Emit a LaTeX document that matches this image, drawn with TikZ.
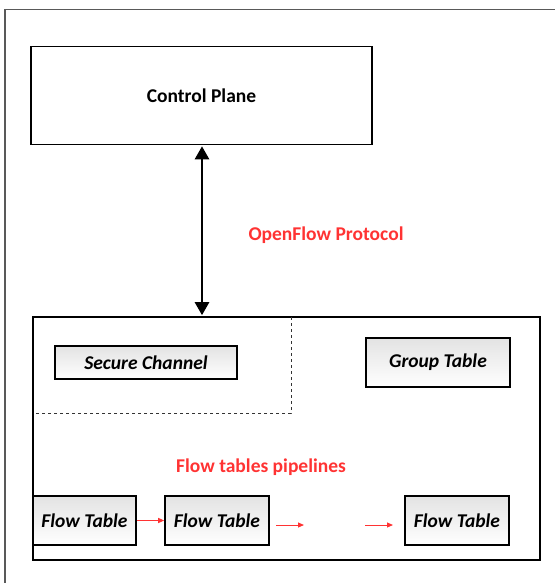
\documentclass[tikz,border=0pt]{standalone}
\usepackage{fontspec}
\setmainfont{Carlito}
\usetikzlibrary{arrows.meta,shadows}
\begin{document}
\begin{tikzpicture}[x=1pt,y=-1pt,
  box/.style={draw=black,line width=1.6pt},
  tbl/.style={draw=black,line width=1.6pt,top color=gray!22,bottom color=white,
    drop shadow={shadow xshift=1pt,shadow yshift=-1pt,opacity=0.3},
    font=\bfseries\itshape\fontsize{19.5}{22}\selectfont},
  redlbl/.style={text=red!80!white,font=\bfseries\fontsize{19.5}{22}\selectfont},
  redarrow/.style={draw=red!80!white,line width=1pt,-{Triangle[length=6pt,width=5pt]}}]
\useasboundingbox (0,0) rectangle (554,583);
\draw[gray!70!black,line width=1.5pt] (5,590) -- (5,9.5) -- (560,9.5);
% Control plane
\node[box,minimum width=341pt,minimum height=98pt,inner sep=0pt,font=\bfseries\fontsize{19.5}{22}\selectfont] (cp) at (201.5,95.5) {Control Plane};
% big switch box
\node[box,minimum width=507pt,minimum height=243pt,inner sep=0pt] (sw) at (286.5,438.5) {};
\coordinate (dtop) at (291,317);
\coordinate (dcorner) at (291,413);
\coordinate (dleft) at (33,413);
\draw[dashed,gray!40!black,line width=1pt,dash pattern=on 3pt off 3pt] (dtop) -- (dcorner) -- (dleft);
% protocol arrow
\coordinate (ax) at (202,0);
\draw[line width=2.6pt,shorten <=1pt,shorten >=1pt,{Triangle[length=13pt,width=14pt]}-{Triangle[length=13pt,width=14pt]}] (cp.south -| ax) -- (sw.north -| ax);
\node[redlbl] (ofp) at (326,235) {OpenFlow Protocol};
% inner tables
\node[tbl,minimum width=182pt,minimum height=33pt,inner sep=0pt] (sc) at (146,362.5) {Secure Channel};
\node[tbl,minimum width=144pt,minimum height=49pt,inner sep=0pt] (gt) at (438,362.5) {Group Table};
\node[redlbl] (ftp) at (261,467) {Flow tables pipelines};
\node[tbl,minimum width=103pt,minimum height=49pt,inner sep=0pt] (ft1) at (84.5,520.5) {Flow Table};
\node[tbl,minimum width=104pt,minimum height=49pt,inner sep=0pt] (ft2) at (217,520.5) {Flow Table};
\node[tbl,minimum width=104pt,minimum height=49pt,inner sep=0pt] (ft3) at (457,520.5) {Flow Table};
\draw[redarrow] (ft1.east) -- (ft2.west);
\coordinate (r1s) at (276,525);
\coordinate (r1e) at (304,525);
\coordinate (r2s) at (365,525);
\coordinate (r2e) at (393,525);
\draw[redarrow] (r1s) -- (r1e);
\draw[redarrow] (r2s) -- (r2e);
\end{tikzpicture}
\end{document}
